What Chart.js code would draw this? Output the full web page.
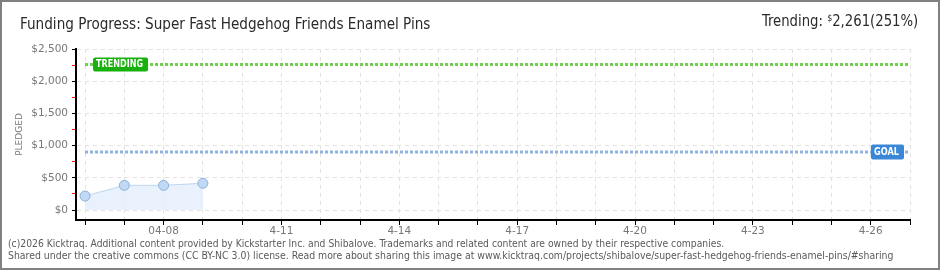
<!DOCTYPE html>
<html>
<head>
<meta charset="utf-8">
<script src="https://cdn.jsdelivr.net/npm/chart.js@4/dist/chart.umd.min.js"></script>
<style>
  html, body { margin: 0; padding: 0; background: #fff; }
  #wrap { position: relative; width: 940px; height: 270px; overflow: hidden; background: #fff; }
  #c { position: absolute; left: 0; top: 0; }
  #frame { position: absolute; left: 0; top: 0; width: 940px; height: 270px; box-sizing: border-box; border: 2px solid #808080; pointer-events: none; }
  .txt { position: absolute; white-space: nowrap; transform-origin: 0 0; }
  #title { left: 20px; top: 15px; font: 15px "DejaVu Sans Condensed", "DejaVu Sans", sans-serif; color: #2a2a2a; }
  #trend { top: 12px; font: 15px "DejaVu Sans Condensed", "DejaVu Sans", sans-serif; color: #2a2a2a; }
  #trend sup { font-size: 9px; vertical-align: 5px; }
  .foot { left: 8px; font: 10px "DejaVu Sans Condensed", "DejaVu Sans", sans-serif; color: #5a5a5a; }
  #f1 { top: 238px; }
  #f2 { top: 250px; }
</style>
</head>
<body>
<div id="wrap">
  <canvas id="c" width="940" height="270"></canvas>
  <div id="title" class="txt">Funding Progress: Super Fast Hedgehog Friends Enamel Pins</div>
  <div id="trend" class="txt">Trending: <sup>$</sup>2,261(251%)</div>
  <div id="f1" class="txt foot">(c)2026 Kicktraq. Additional content provided by Kickstarter Inc. and Shibalove. Trademarks and related content are owned by their respective companies.</div>
  <div id="f2" class="txt foot">Shared under the creative commons (CC BY-NC 3.0) license. Read more about sharing this image at www.kicktraq.com/projects/shibalove/super-fast-hedgehog-friends-enamel-pins/#sharing</div>
  <div id="frame"></div>
</div>
<script>
// ---- data ----
const days = ['04-06','04-07','04-08','04-09','04-10','04-11','04-12','04-13','04-14','04-15','04-16',
              '04-17','04-18','04-19','04-20','04-21','04-22','04-23','04-24','04-25','04-26','04-27'];
const xTickLabels = ['', '', '04-08', '', '', '4-11', '', '', '4-14', '', '', '4-17', '', '', '4-20', '', '', '4-23', '', '', '4-26', ''];
const pledged = [217, 383, 383, 415];
const goalValue = 900;
const trendingValue = 2261;
const yTickValues = [0, 250, 500, 750, 1000, 1250, 1500, 1750, 2000, 2250, 2500];

// fit html texts to target widths
function fit(id, left, right) {
  const el = document.getElementById(id);
  const w = el.scrollWidth;
  const s = (right - left) / w;
  el.style.left = left + 'px';
  el.style.transform = 'scaleX(' + s + ')';
}
fit('title', 20, 430);
fit('trend', 762, 918);
fit('f1', 8, 724);
fit('f2', 8, 893);

const pledgedPts = pledged.map((v, i) => ({x: i, y: v}));
const goalPts = days.map((d, i) => ({x: i, y: goalValue}));
const trendPts = days.map((d, i) => ({x: i, y: trendingValue}));

const labelPlugin = {
  id: 'labels',
  afterDatasetsDraw(chart) {
    const ctx = chart.ctx;
    const xs = chart.scales.x, ys = chart.scales.y;
    function box(x, y, w, h, fill, text) {
      ctx.save();
      ctx.fillStyle = fill;
      ctx.beginPath();
      ctx.roundRect(x, y - h / 2, w, h, 2);
      ctx.fill();
      ctx.fillStyle = '#fff';
      ctx.font = 'bold 10px "DejaVu Sans", sans-serif';
      ctx.textBaseline = 'middle';
      ctx.textAlign = 'left';
      ctx.fillText(text, x + 3, y + 0.5, w - 8);
      ctx.restore();
    }
    const ty = ys.getPixelForValue(trendingValue);
    box(xs.getPixelForValue(0) + 8, ty, 55, 14, '#18b00c', 'TRENDING');
    const gy = ys.getPixelForValue(goalValue);
    box(xs.getPixelForValue(days.length - 1) - 39, gy, 33, 15, '#3a87d8', 'GOAL');
  }
};

new Chart(document.getElementById('c'), {
  type: 'line',
  data: {
    datasets: [
      {
        label: 'Trending', data: trendPts, borderColor: '#6dd14c', borderWidth: 3,
        borderDash: [3, 2], pointRadius: 0, fill: false, order: 1
      },
      {
        label: 'Goal', data: goalPts, borderColor: '#8fb2e0', borderWidth: 3,
        borderDash: [3, 2], pointRadius: 0, fill: false, order: 2
      },
      {
        label: 'Pledged', data: pledgedPts, borderColor: '#bcd6f3', borderWidth: 1,
        backgroundColor: 'rgba(225,236,252,0.75)', fill: {value: 0},
        pointRadius: 5, pointBackgroundColor: '#c0d9f6', pointBorderColor: '#8fb0d6',
        pointBorderWidth: 1, tension: 0, order: 3
      }
    ]
  },
  options: {
    responsive: false,
    animation: false,
    devicePixelRatio: 1,
    layout: { padding: { top: 49, right: 30, bottom: 0, left: 0 } },
    plugins: { legend: { display: false }, tooltip: { enabled: false }, title: { display: false } },
    scales: {
      x: {
        type: 'linear',
        min: -0.23,
        max: days.length - 1,
        afterBuildTicks: s => { s.ticks = days.map((d, i) => ({ value: i })); },
        afterFit: s => { s.height = 50; },
        ticks: {
          autoSkip: false, maxRotation: 0, minRotation: 0, padding: 0,
          color: '#777', font: { family: '"DejaVu Sans", sans-serif', size: 10.5 },
          callback: (v, i) => xTickLabels[i]
        },
        grid: { color: '#e2e2e2', tickColor: '#000', tickLength: 5, lineWidth: 1 },
        border: { color: '#000', width: 2, dash: [4, 4] }
      },
      y: {
        min: -155,
        max: 2500,
        afterBuildTicks: s => { s.ticks = yTickValues.map(v => ({ value: v })); },
        afterFit: s => { s.width = 76; },
        ticks: {
          padding: 4, color: '#777', font: { family: '"DejaVu Sans", sans-serif', size: 10.5 },
          callback: v => (v % 500 === 0 ? '$' + v.toLocaleString('en-US') : '')
        },
        grid: {
          color: c => (c.tick && c.tick.value % 500 === 0 ? '#e2e2e2' : 'rgba(0,0,0,0)'),
          tickColor: c => (c.tick && c.tick.value % 500 === 0 ? '#000' : '#ff0000'),
          tickLength: 4, lineWidth: 1
        },
        border: { color: '#000', width: 2, dash: [4, 4] },
        title: {
          display: true, text: 'PLEDGED', color: '#777',
          font: { family: '"DejaVu Sans", sans-serif', size: 9 },
          padding: { top: 14, bottom: 0 }
        }
      }
    }
  },
  plugins: [labelPlugin]
});
</script>
</body>
</html>
